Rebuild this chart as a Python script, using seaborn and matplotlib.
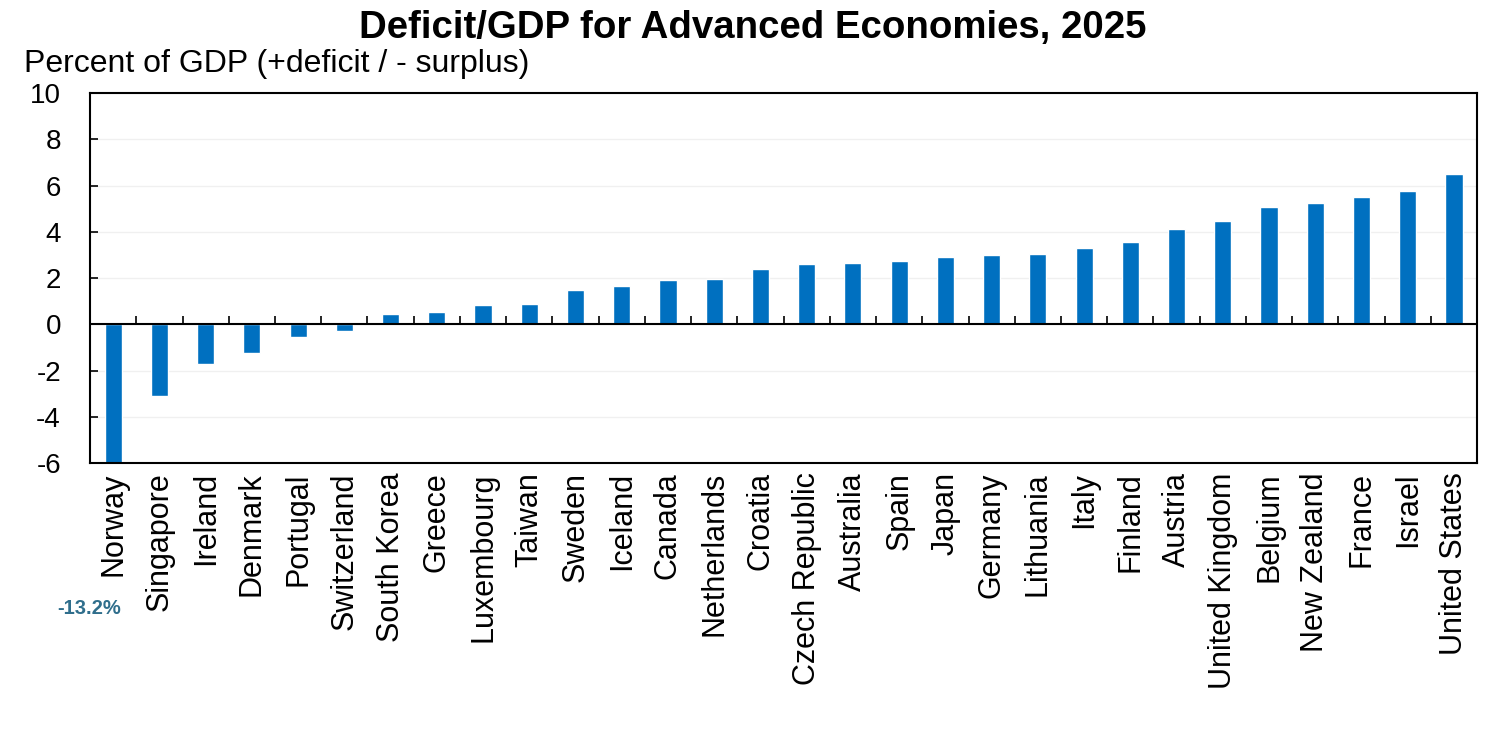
import matplotlib.pyplot as plt
import seaborn as sns
import numpy as np
import pandas as pd

countries = ['Norway', 'Singapore', 'Ireland', 'Denmark', 'Portugal', 'Switzerland',
             'South Korea', 'Greece', 'Luxembourg', 'Taiwan', 'Sweden', 'Iceland',
             'Canada', 'Netherlands', 'Croatia', 'Czech Republic', 'Australia', 'Spain',
             'Japan', 'Germany', 'Lithuania', 'Italy', 'Finland', 'Austria',
             'United Kingdom', 'Belgium', 'New Zealand', 'France', 'Israel', 'United States']
deficit = [-13.2, -3.1, -1.7, -1.25, -0.55, -0.3,
           0.43, 0.52, 0.82, 0.88, 1.5, 1.67,
           1.93, 1.95, 2.4, 2.61, 2.64, 2.74,
           2.9, 3.0, 3.04, 3.3, 3.55, 4.13,
           4.47, 5.08, 5.24, 5.5, 5.76, 6.51]

df = pd.DataFrame({'Country': countries, 'Deficit': deficit})

sns.set_style('white')
plt.rcParams['font.family'] = ['Liberation Sans', 'DejaVu Sans']
plt.rcParams['axes.unicode_minus'] = False
plt.rcParams['text.color'] = 'black'
plt.rcParams['xtick.color'] = 'black'
plt.rcParams['ytick.color'] = 'black'

fig = plt.figure(figsize=(15.06, 7.41), dpi=100)
ax = fig.add_axes([0.0598, 0.375, 0.9210, 0.4995])

sns.barplot(data=df, x='Country', y='Deficit', color='#0070C0', width=0.37,
            saturation=1, ax=ax)

ax.set_ylim(-6, 10)
ax.set_xlim(-0.5, len(countries) - 0.5)
ax.set_yticks(np.arange(-6, 11, 2))
ax.yaxis.grid(True, color='#f0f0f0', linewidth=1)
ax.set_axisbelow(True)
ax.set_xlabel('')
ax.set_ylabel('')

ax.tick_params(axis='y', direction='in', length=6, width=1.2, labelsize=20, pad=21, left=True)
ax.tick_params(axis='x', bottom=False, labelsize=22, pad=3)
plt.setp(ax.get_xticklabels(), rotation=90, va='top', ha='center')

for s in ax.spines.values():
    s.set_color('black')
    s.set_linewidth(1.5)

# zero line with small category separators
ax.axhline(0, color='black', linewidth=1.5, zorder=3)
ax.vlines(np.arange(len(countries) - 1) + 0.5, 0, 0.37, color='black', linewidth=1.2, zorder=3)

# label for the clipped bar
ax.text(0.16, -0.392, f'{deficit[0]:.1f}%', transform=ax.get_xaxis_transform(),
        ha='right', va='center', fontsize=14.5, fontweight='bold', color='#2F6E8C')

fig.text(0.5, 0.949, 'Deficit/GDP for Advanced Economies, 2025', ha='center', va='baseline',
         fontsize=27.6, fontweight='bold')
fig.text(0.016, 0.903, 'Percent of GDP (+deficit / - surplus)', ha='left', va='baseline',
         fontsize=23)

fig.savefig('out.png', dpi=100)
